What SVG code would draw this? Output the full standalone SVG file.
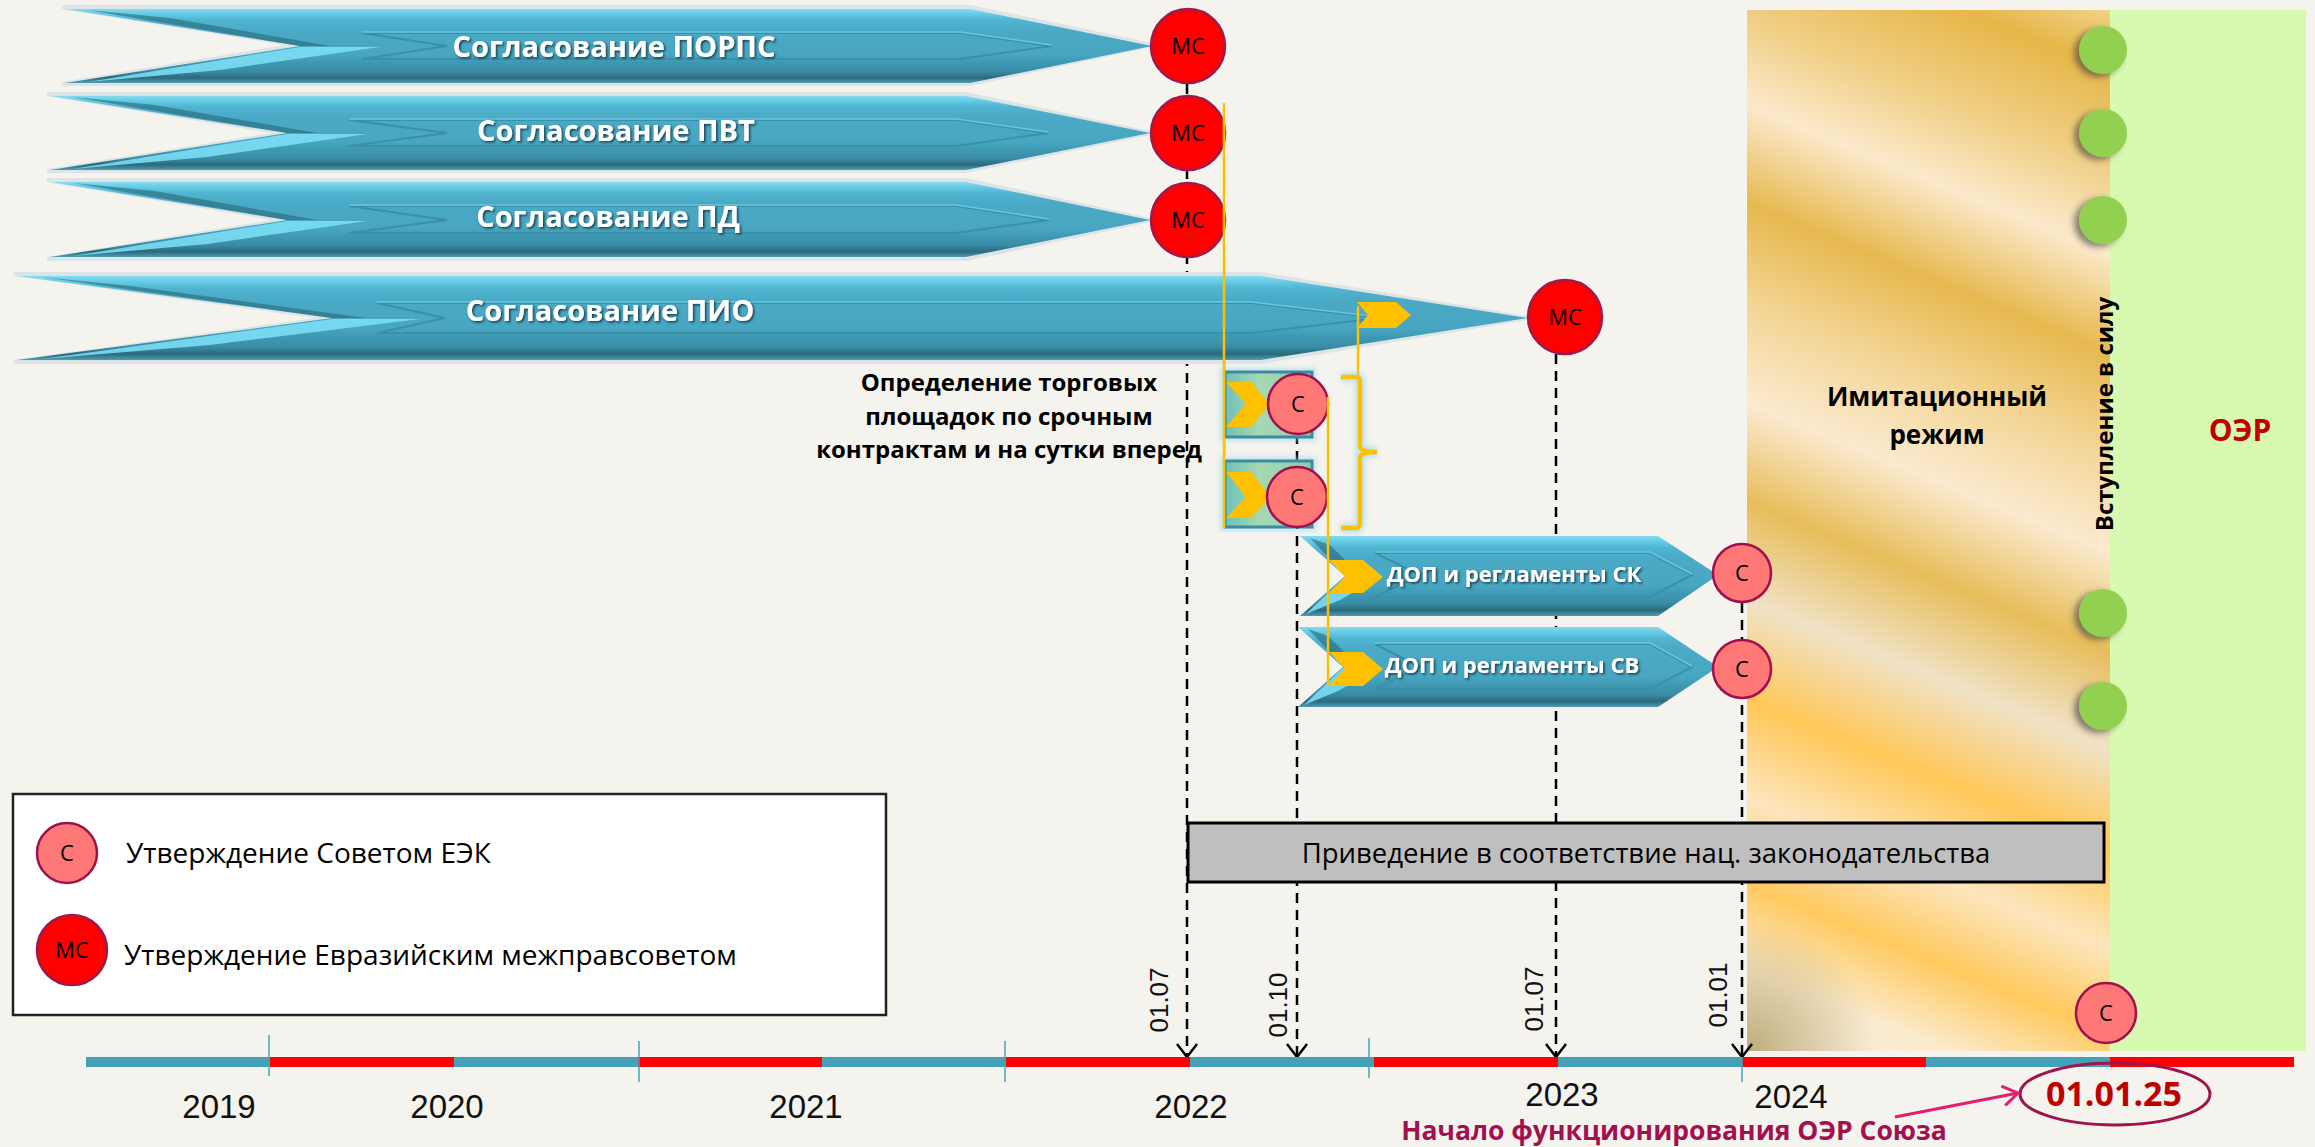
<svg xmlns="http://www.w3.org/2000/svg" width="2315" height="1147" viewBox="0 0 2315 1147">
<style>
.bar{fill:url(#barGrad)}
.halo{fill:none;stroke:#DCE4E6;stroke-width:4}
.inner{fill:none;stroke:#3A90A9;stroke-width:2}
.innerhi{fill:none;stroke:#68C8E2;stroke-width:1.5}
.dark{fill:#25606F;opacity:.55}
.light{fill:#7FE0F8;opacity:.85}
.lbl{font-family:"Open Sans","DejaVu Sans",sans-serif;font-weight:bold;fill:#fff;text-anchor:middle;filter:url(#tsh)}
.ms{fill:#FF0000;stroke:#9E1A4C;stroke-width:2.5}
.c{fill:#FF7878;stroke:#A0104C;stroke-width:2.5}
.ct{font-family:"Open Sans","DejaVu Sans",sans-serif;font-size:22px;fill:#000;text-anchor:middle}
.dash{fill:none;stroke:#000;stroke-width:2.5;stroke-dasharray:10 7}
.yl{fill:none;stroke:#FFC000;stroke-width:2.5}
.glow{fill:none;stroke:#8AD6F0;stroke-width:10;opacity:.55;filter:url(#blur)}
.chev{fill:#FFC000}
.gbox{fill:url(#boxGrad);stroke:#3D8B9B;stroke-width:3}
.dot{fill:#92D050;filter:url(#dsh)}
.tick{stroke:#4AA0B8;stroke-width:1.5}
.yr{font-family:"Liberation Sans",Arial,sans-serif;font-size:33px;fill:#111;text-anchor:middle}
.dt{font-family:"Liberation Sans",Arial,sans-serif;font-size:26px;fill:#111;text-anchor:middle}
.blk{font-family:"Open Sans","DejaVu Sans",sans-serif;font-weight:bold;fill:#000;text-anchor:middle}
.reg{font-family:"Open Sans","DejaVu Sans",sans-serif;fill:#000}
</style>
<defs>
<linearGradient id="barGrad" x1="0" y1="0" x2="0" y2="1">
<stop offset="0" stop-color="#86DAF0"/>
<stop offset="0.07" stop-color="#64CAE5"/>
<stop offset="0.15" stop-color="#50B4D0"/>
<stop offset="0.3" stop-color="#4AA9C5"/>
<stop offset="0.62" stop-color="#48A6C2"/>
<stop offset="0.72" stop-color="#3F99B3"/>
<stop offset="0.84" stop-color="#3A8DA6"/>
<stop offset="0.93" stop-color="#2C6A7B"/>
<stop offset="1" stop-color="#4E9EB4"/>
</linearGradient>
<linearGradient id="boxGrad" x1="0" y1="0" x2="1" y2="0">
<stop offset="0" stop-color="#6FBFB8"/>
<stop offset="0.4" stop-color="#A6D9B2"/>
<stop offset="1" stop-color="#8CCBB0"/>
</linearGradient>
<linearGradient id="imitGrad" gradientUnits="userSpaceOnUse" x1="2000" y1="-60" x2="1500" y2="1150">
<stop offset="0" stop-color="#F5DDA0"/>
<stop offset="0.06" stop-color="#E6B648"/>
<stop offset="0.13" stop-color="#F0CF86"/>
<stop offset="0.19" stop-color="#FBE9CB"/>
<stop offset="0.26" stop-color="#E6B84E"/>
<stop offset="0.33" stop-color="#F3D595"/>
<stop offset="0.40" stop-color="#FBEAD0"/>
<stop offset="0.47" stop-color="#E7BD5A"/>
<stop offset="0.54" stop-color="#F0E2C6"/>
<stop offset="0.61" stop-color="#FFC758"/>
<stop offset="0.68" stop-color="#FCE6BE"/>
<stop offset="0.74" stop-color="#FFC95E"/>
<stop offset="0.80" stop-color="#FBEBCF"/>
<stop offset="0.86" stop-color="#F6F0E0"/>
<stop offset="1" stop-color="#F6F0E0"/>
</linearGradient>
<radialGradient id="khaki" gradientUnits="userSpaceOnUse" cx="1747" cy="1051" r="130">
<stop offset="0" stop-color="#B5A06A" stop-opacity=".85"/>
<stop offset="1" stop-color="#B5A06A" stop-opacity="0"/>
</radialGradient>
<filter id="tsh" x="-10%" y="-30%" width="120%" height="160%">
<feDropShadow dx="1.5" dy="1.5" stdDeviation="1" flood-color="#0B2F3A" flood-opacity=".85"/>
</filter>
<filter id="dsh" x="-60%" y="-60%" width="220%" height="220%">
<feDropShadow dx="-5" dy="3" stdDeviation="3" flood-color="#3A3A3A" flood-opacity=".6"/>
</filter>
<filter id="blur" x="-50%" y="-10%" width="200%" height="120%">
<feGaussianBlur stdDeviation="2.5"/>
</filter>
<marker id="vhead" viewBox="0 0 16 22" refX="14" refY="11" markerWidth="16" markerHeight="22" markerUnits="userSpaceOnUse" orient="auto">
<path d="M1,1 L14,11 L1,21" fill="none" stroke="#000" stroke-width="2.5" stroke-dasharray="none"/>
</marker>
<marker id="phead" viewBox="0 0 18 22" refX="16" refY="11" markerWidth="18" markerHeight="22" markerUnits="userSpaceOnUse" orient="auto">
<path d="M1,1 L16,11 L1,21" fill="none" stroke="#E0206F" stroke-width="3"/>
</marker>
</defs>

<rect x="0" y="0" width="2315" height="1147" fill="#F4F3EE"/>

<g id="imitation">
<rect x="1747" y="10" width="363" height="1041" fill="url(#imitGrad)"/>
<rect x="1747" y="900" width="200" height="151" fill="url(#khaki)"/>
<text class="blk" x="1937" y="406" font-size="26">Имитационный</text>
<text class="blk" x="1937" y="444" font-size="26">режим</text>
</g>
<g id="oer">
<rect x="2110" y="10" width="196" height="1041" fill="#D8FAB0"/>
<text x="2240" y="441" font-family="Open Sans,DejaVu Sans,sans-serif" font-weight="bold" font-size="30" fill="#C00000" text-anchor="middle">ОЭР</text>
</g>

<g id="connectors">
<line class="dash" x1="1187" y1="84" x2="1187" y2="1057" marker-end="url(#vhead)"/>
<line class="dash" x1="1297" y1="434" x2="1297" y2="1057" marker-end="url(#vhead)"/>
<line class="dash" x1="1556" y1="354" x2="1556" y2="1057" marker-end="url(#vhead)"/>
<line class="dash" x1="1742" y1="603" x2="1742" y2="1057" marker-end="url(#vhead)"/>
</g>

<g id="arrow-porps">
<path class="halo" d="M62,7 L970,7 L1152,45 L970,84 L62,84 L297,45 Z"/>
<path class="bar" d="M65,9 L970,9 L1152,46 L970,83 L65,83 L300,46 Z"/>
<path class="dark" d="M88,10 L300,46 L330,46 L170,18 Z"/>
<path class="light" d="M88,82 L300,47 L380,47 L220,70 Z"/>
<path class="inner" d="M362,33 L960,33 L1052,46 L960,59 L362,59 L447,46 Z"/>
<path class="innerhi" d="M362,32 L960,32 L1052,45"/>
<text class="lbl" x="614" y="57" font-size="29">Согласование ПОРПС</text>
</g>
<g id="arrow-pvt">
<path class="halo" d="M47,94 L966,94 L1150,133 L966,171 L47,171 L284,133 Z"/>
<path class="bar" d="M50,96 L966,96 L1150,133 L966,170 L50,170 L287,133 Z"/>
<path class="dark" d="M73,97 L287,133 L317,133 L155,105 Z"/>
<path class="light" d="M73,169 L287,134 L367,134 L207,157 Z"/>
<path class="inner" d="M349,120 L956,120 L1049,133 L956,146 L349,146 L447,133 Z"/>
<path class="innerhi" d="M349,119 L956,119 L1049,132"/>
<text class="lbl" x="616" y="141" font-size="29">Согласование ПВТ</text>
</g>
<g id="arrow-pd">
<path class="halo" d="M47,180 L966,180 L1150,220 L966,259 L47,259 L284,220 Z"/>
<path class="bar" d="M50,182 L966,182 L1150,220 L966,257 L50,257 L287,220 Z"/>
<path class="dark" d="M73,183 L287,220 L317,220 L155,191 Z"/>
<path class="light" d="M73,256 L287,221 L367,221 L207,244 Z"/>
<path class="inner" d="M349,206 L956,206 L1049,220 L956,233 L349,233 L447,220 Z"/>
<path class="innerhi" d="M349,205 L956,205 L1049,219"/>
<text class="lbl" x="608" y="227" font-size="29">Согласование ПД</text>
</g>
<g id="arrow-pio">
<path class="halo" d="M14,274 L1261,274 L1527,318 L1261,362 L14,362 L329,318 Z"/>
<path class="bar" d="M17,276 L1261,276 L1527,318 L1261,360 L17,360 L332,318 Z"/>
<path class="dark" d="M42,277 L332,318 L366,318 L130,286 Z"/>
<path class="light" d="M42,359 L332,319 L420,319 L210,345 Z"/>
<path class="inner" d="M377,303 L1251,303 L1380,318 L1251,333 L377,333 L445,318 Z"/>
<path class="innerhi" d="M377,302 L1251,302 L1380,317"/>
<text class="lbl" x="610" y="321" font-size="29">Согласование ПИО</text>
</g>

<g id="ms-nodes">
<circle class="ms" cx="1188" cy="46" r="37"/><text class="ct" x="1188" y="54">МС</text>
<circle class="ms" cx="1188" cy="133" r="37"/><text class="ct" x="1188" y="141">МС</text>
<circle class="ms" cx="1188" cy="220" r="37"/><text class="ct" x="1188" y="228">МС</text>
<circle class="ms" cx="1565" cy="317" r="37"/><text class="ct" x="1565" y="325">МС</text>
</g>

<g id="trading">
<text class="blk" x="1009" y="391" font-size="24">Определение торговых</text>
<text class="blk" x="1009" y="425" font-size="24">площадок по срочным</text>
<text class="blk" x="1009" y="458" font-size="24">контрактам и на сутки вперед</text>
<rect x="1220" y="368" width="96" height="73" fill="#8AD6F0" opacity=".5" filter="url(#blur)"/>
<rect x="1220" y="457" width="96" height="74" fill="#8AD6F0" opacity=".5" filter="url(#blur)"/>
<rect class="gbox" x="1225" y="372" width="87" height="65"/>
<rect class="gbox" x="1225" y="461" width="87" height="66"/>
<path class="chev" d="M1226,382 L1251,382 L1270,404 L1251,427 L1226,427 L1246,404 Z"/>
<path class="chev" d="M1226,472 L1251,472 L1271,497 L1251,518 L1226,518 L1246,497 Z"/>
<circle class="c" cx="1298" cy="404" r="30"/><text class="ct" x="1298" y="412">С</text>
<circle class="c" cx="1297" cy="497" r="30"/><text class="ct" x="1297" y="505">С</text>
</g>

<g id="arrow-dop-sk">
<path class="bar" d="M1300,536 L1658,536 L1718,575 L1658,616 L1300,616 L1345,576 Z"/>
<path class="dark" d="M1310,538 L1345,575 L1360,575 L1330,545 Z"/>
<path class="light" d="M1306,614 L1345,577 L1380,577 L1340,600 Z"/>
<path class="inner" d="M1375,553 L1650,553 L1692,575 L1650,597 L1375,597 L1420,575 Z"/>
<path class="innerhi" d="M1375,552 L1650,552 L1692,574"/>
<text class="lbl" x="1514" y="582" font-size="22">ДОП и регламенты СК</text>
<circle class="c" cx="1742" cy="573" r="29"/><text class="ct" x="1742" y="581">С</text>
</g>
<g id="arrow-dop-sv">
<path class="bar" d="M1298,627 L1658,627 L1718,667 L1658,707 L1298,707 L1343,667 Z"/>
<path class="dark" d="M1308,629 L1343,666 L1358,666 L1328,636 Z"/>
<path class="light" d="M1304,705 L1343,668 L1378,668 L1338,691 Z"/>
<path class="inner" d="M1375,644 L1650,644 L1692,667 L1650,689 L1375,689 L1420,667 Z"/>
<path class="innerhi" d="M1375,643 L1650,643 L1692,666"/>
<text class="lbl" x="1512" y="673" font-size="22">ДОП и регламенты СВ</text>
<circle class="c" cx="1742" cy="669" r="29"/><text class="ct" x="1742" y="677">С</text>
</g>

<g id="yellow-links">
<line class="glow" x1="1224" y1="103" x2="1224" y2="528"/>
<line class="yl" x1="1224" y1="103" x2="1224" y2="528"/>
<line class="glow" x1="1358" y1="306" x2="1358" y2="377"/>
<line class="yl" x1="1358" y1="306" x2="1358" y2="377"/>
<path class="glow" d="M1341,377 L1356,377 Q1360,377 1360,383 L1360,446 Q1360,452 1377,452 Q1360,452 1360,458 L1360,522 Q1360,528 1356,528 L1341,528"/>
<path d="M1341,377 L1356,377 Q1360,377 1360,383 L1360,446 Q1360,452 1377,452 Q1360,452 1360,458 L1360,522 Q1360,528 1356,528 L1341,528" fill="none" stroke="#FFC000" stroke-width="4.5"/>
<path class="chev" d="M1357,302 L1396,302 L1411,315 L1396,328 L1357,328 L1368,315 Z"/>
<line class="glow" x1="1328" y1="397" x2="1328" y2="686"/>
<line class="yl" x1="1328" y1="397" x2="1328" y2="686"/>
<path class="chev" d="M1329,560 L1363,560 L1383,577 L1363,593 L1329,593 L1345,577 Z"/>
<path class="chev" d="M1329,652 L1363,652 L1383,669 L1363,686 L1329,686 L1345,669 Z"/>
</g>

<g id="entry-dots">
<circle class="dot" cx="2103" cy="50" r="24"/>
<circle class="dot" cx="2103" cy="133" r="24"/>
<circle class="dot" cx="2103" cy="220" r="24"/>
<circle class="dot" cx="2103" cy="613" r="24"/>
<circle class="dot" cx="2103" cy="706" r="24"/>
<text class="blk" font-size="24" transform="translate(2113,414) rotate(-90)" x="0" y="0">Вступление в силу</text>
</g>

<g id="national-law">
<rect x="1188" y="823" width="916" height="59" fill="#BFBFBF" stroke="#000" stroke-width="3"/>
<text class="reg" x="1646" y="863" font-size="27.5" text-anchor="middle">Приведение в соответствие нац. законодательства</text>
</g>

<g id="final-c">
<circle class="c" cx="2106" cy="1013" r="30"/><text class="ct" x="2106" y="1021">С</text>
</g>

<g id="legend">
<rect x="13" y="794" width="873" height="221" fill="#FFFFFF" stroke="#222" stroke-width="2.5"/>
<circle class="c" cx="67" cy="853" r="30"/><text class="ct" x="67" y="861">С</text>
<text class="reg" x="126" y="863" font-size="28">Утверждение Советом ЕЭК</text>
<circle class="ms" cx="72" cy="950" r="35"/><text class="ct" x="72" y="958">МС</text>
<text class="reg" x="124" y="965" font-size="28">Утверждение Евразийским межправсоветом</text>
</g>

<g id="timeline">
<rect x="86" y="1057" width="184" height="10" fill="#45A0BA"/>
<rect x="270" y="1057" width="184" height="10" fill="#FF0000"/>
<rect x="454" y="1057" width="184" height="10" fill="#45A0BA"/>
<rect x="638" y="1057" width="184" height="10" fill="#FF0000"/>
<rect x="822" y="1057" width="184" height="10" fill="#45A0BA"/>
<rect x="1006" y="1057" width="184" height="10" fill="#FF0000"/>
<rect x="1190" y="1057" width="184" height="10" fill="#45A0BA"/>
<rect x="1374" y="1057" width="184" height="10" fill="#FF0000"/>
<rect x="1558" y="1057" width="184" height="10" fill="#45A0BA"/>
<rect x="1742" y="1057" width="184" height="10" fill="#FF0000"/>
<rect x="1926" y="1057" width="184" height="10" fill="#45A0BA"/>
<rect x="2110" y="1057" width="184" height="10" fill="#FF0000"/>
<line class="tick" x1="269" y1="1035" x2="269" y2="1076"/>
<line class="tick" x1="639" y1="1041" x2="639" y2="1082"/>
<line class="tick" x1="1005" y1="1041" x2="1005" y2="1082"/>
<line class="tick" x1="1369" y1="1038" x2="1369" y2="1078"/>
<line class="tick" x1="1742" y1="1057" x2="1742" y2="1082"/>
<text class="yr" x="219" y="1118">2019</text>
<text class="yr" x="447" y="1118">2020</text>
<text class="yr" x="806" y="1118">2021</text>
<text class="yr" x="1191" y="1118">2022</text>
<text class="yr" x="1562" y="1106">2023</text>
<text class="yr" x="1791" y="1108">2024</text>
<text class="dt" transform="translate(1168,1000) rotate(-90)">01.07</text>
<text class="dt" transform="translate(1287,1005) rotate(-90)">01.10</text>
<text class="dt" transform="translate(1543,999) rotate(-90)">01.07</text>
<text class="dt" transform="translate(1727,995) rotate(-90)">01.01</text>
</g>

<g id="start-date">
<ellipse cx="2115" cy="1094" rx="95" ry="31" fill="none" stroke="#A0144E" stroke-width="3"/>
<text x="2114" y="1106" font-family="Open Sans,DejaVu Sans,sans-serif" font-weight="bold" font-size="34" fill="#C00000" text-anchor="middle">01.01.25</text>
<line x1="1895" y1="1117" x2="2018" y2="1093" stroke="#E0206F" stroke-width="3" marker-end="url(#phead)"/>
<text x="1674" y="1140" font-family="Open Sans,DejaVu Sans,sans-serif" font-weight="bold" font-size="26.5" fill="#A3104F" text-anchor="middle">Начало функционирования ОЭР Союза</text>
</g>
</svg>
